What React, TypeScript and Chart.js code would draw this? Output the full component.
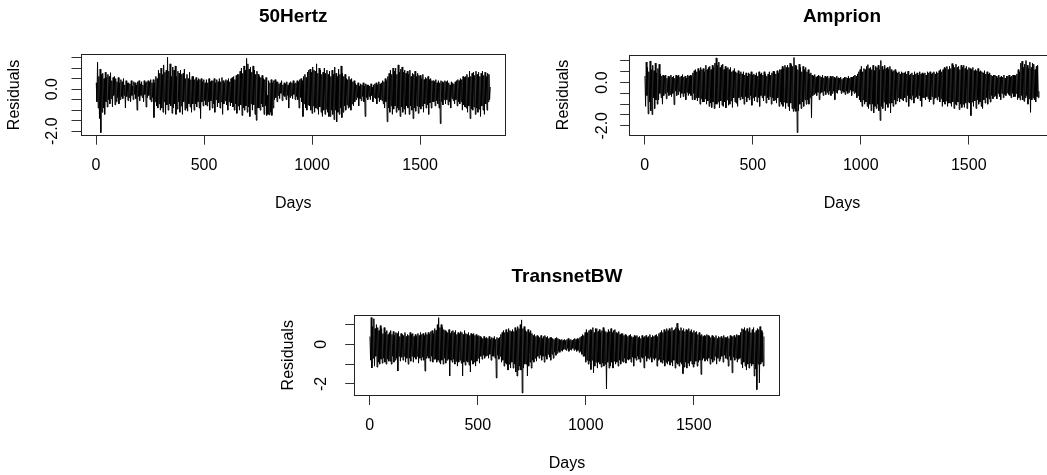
import { useEffect, useRef } from 'react';
import { Chart, registerables } from 'chart.js';

Chart.register(...registerables);

const FONT = "'Liberation Sans', Arial, Helvetica, sans-serif";

const FIRST_DAY = 1;
const STEP_DAYS = 3;

const X_TICKS = [0, 500, 1000, 1500];

const RES_50HERTZ = [
  0.3, -0.6, 1.28, -0.9, 0.6, -1.4, 0.95, -2.07, 0.7, -1.1,
  0.75, -0.9, 0.5, -1.2, 0.8, -0.6, 0.55, -0.85, 0.7, -0.5,
  0.6, -0.7, 0.78, -0.45, 0.4, -0.85, 0.55, -0.3, 0.6, -0.75,
  0.5, -0.6, 0.35, -0.4, 0.55, -0.7, 0.3, -0.5, 0.45, -0.35,
  0.35, -0.45, 0.5, -0.3, 0.2, -0.9, 0.4, -0.35, 0.3, -0.55,
  0.3, -0.4, 0.25, -0.6, 0.4, -0.3, 0.15, -0.5, 0.35, -0.25,
  0.3, -0.45, 0.2, -1.0, 0.35, -0.35, 0.4, -0.55, 0.25, -0.3,
  0.35, -0.4, 0.2, -0.6, 0.4, -0.25, 0.3, -0.85, 0.35, -0.4,
  0.4, -0.3, 0.35, -0.5, 0.45, -0.6, 0.3, -0.4, 0.45, -1.35,
  0.3, -0.6, 0.6, -0.8, 0.5, -0.9, 0.9, -0.7, 0.75, -1.0,
  1.0, -0.9, 0.7, -1.1, 1.15, -0.6, 0.8, -1.2, 0.9, -0.75,
  1.51, -1.0, 0.85, -0.7, 1.2, -0.8, 0.6, -1.15, 1.05, -0.9,
  0.9, -0.7, 1.1, -1.2, 0.6, -0.95, 0.85, -0.6, 0.75, -1.1,
  0.9, -0.8, 0.7, -1.2, 0.75, -0.6, 0.95, -1.0, 0.5, -0.9,
  0.7, -1.05, 0.5, -0.7, 0.8, -0.85, 0.45, -1.1, 0.6, -0.7,
  0.6, -1.0, 0.45, -0.7, 0.55, -0.85, 0.4, -0.6, 0.5, -0.9,
  0.45, -1.4, 0.5, -0.6, 0.35, -0.8, 0.45, -0.55, 0.3, -0.75,
  0.45, -0.8, 0.3, -0.6, 0.5, -1.0, 0.35, -0.55, 0.4, -0.9,
  0.4, -0.7, 0.5, -1.1, 0.3, -0.5, 0.45, -0.85, 0.35, -0.65,
  0.5, -0.9, 0.35, -0.6, 0.55, -1.2, 0.4, -0.7, 0.3, -0.55,
  0.45, -0.75, 0.4, -1.0, 0.5, -0.6, 0.35, -0.8, 0.5, -0.65,
  0.55, -0.85, 0.6, -1.0, 0.45, -0.7, 0.65, -1.15, 0.7, -0.8,
  0.7, -1.0, 0.85, -0.75, 1.0, -1.25, 0.75, -0.9, 1.1, -1.0,
  0.9, -0.8, 1.46, -1.1, 1.2, -0.85, 0.95, -1.3, 1.05, -0.7,
  0.8, -1.0, 1.1, -0.75, 0.9, -1.2, 0.7, -1.48, 0.85, -0.9,
  0.7, -0.9, 0.6, -1.0, 0.55, -0.7, 0.65, -0.85, 0.5, -1.2,
  0.45, -0.8, 0.55, -1.25, -0.3, -1.2, 0.4, -1.22, 0.3, -1.1,
  0.45, -1.25, 0.3, -0.9, 0.4, -0.5, 0.45, -0.4, 0.35, -0.6,
  0.35, -0.3, 0.25, -0.45, 0.3, -0.2, 0.4, -0.55, 0.2, -0.3,
  0.3, -0.35, 0.25, -0.5, 0.35, -0.3, 0.2, -0.9, 0.3, -0.4,
  0.35, -0.3, 0.3, -0.45, 0.4, -0.25, 0.25, -0.5, 0.3, -0.35,
  0.4, -0.5, 0.35, -0.9, 0.45, -0.4, 0.5, -0.6, 0.4, -1.3,
  0.6, -0.7, 0.7, -0.9, 0.55, -1.0, 0.8, -0.75, 0.9, -0.8,
  0.95, -1.0, 0.8, -1.15, 1.05, -0.8, 0.9, -1.1, 0.85, -0.9,
  1.2, -0.95, 0.75, -1.2, 1.0, -0.85, 0.9, -1.1, 0.7, -1.3,
  0.8, -1.0, 1.0, -1.2, 0.75, -0.95, 0.9, -1.1, 0.7, -1.3,
  0.85, -1.3, 0.6, -1.0, 0.9, -1.2, 0.7, -1.45, 1.05, -1.0,
  0.75, -1.56, 0.6, -1.1, 0.95, -1.2, 0.7, -0.9, 1.1, -1.35,
  0.75, -1.1, 0.6, -0.8, 0.7, -1.0, 0.5, -0.75, 0.45, -0.9,
  0.6, -0.85, 0.45, -1.0, 0.5, -0.7, 0.35, -0.8, 0.4, -0.6,
  0.25, -0.5, 0.2, -0.4, 0.3, -0.8, 0.15, -0.45, 0.25, -0.55,
  0.2, -0.35, 0.3, -0.6, 0.15, -1.3, 0.25, -0.4, 0.2, -0.5,
  0.2, -0.35, 0.15, -0.5, 0.25, -0.3, 0.1, -0.6, 0.2, -0.4,
  0.25, -0.45, 0.3, -0.7, 0.2, -0.4, 0.35, -0.6, 0.25, -0.5,
  0.3, -0.55, 0.4, -0.7, 0.35, -0.9, 0.5, -0.6, 0.4, -1.55,
  0.6, -0.9, 0.75, -1.1, 0.9, -0.8, 0.7, -1.2, 1.0, -0.95,
  0.85, -0.8, 1.0, -1.1, 0.7, -0.9, 1.15, -1.0, 0.8, -1.3,
  0.95, -0.85, 1.05, -1.1, 0.8, -0.95, 0.9, -1.2, 0.75, -0.8,
  0.85, -0.9, 0.7, -1.2, 0.9, -0.8, 0.6, -1.0, 0.75, -1.4,
  0.7, -0.9, 0.85, -1.05, 0.6, -0.8, 0.75, -1.15, 0.65, -0.85,
  0.65, -0.95, 0.5, -0.8, 0.7, -1.1, 0.45, -0.7, 0.55, -0.9,
  0.5, -0.75, 0.6, -1.2, 0.45, -0.65, 0.5, -0.9, 0.4, -0.6,
  0.4, -0.6, 0.35, -0.8, 0.45, -0.55, 0.3, -0.7, 0.4, -0.9,
  0.3, -1.64, 0.4, -0.6, 0.35, -0.75, 0.3, -0.5, 0.4, -0.7,
  0.35, -0.5, 0.4, -0.75, 0.3, -0.6, 0.2, -0.9, 0.35, -0.45,
  0.3, -0.55, 0.25, -0.7, 0.35, -0.5, 0.4, -0.8, 0.45, -0.6,
  0.4, -0.7, 0.5, -0.6, 0.45, -1.0, 0.6, -0.75, 0.55, -0.85,
  0.6, -0.9, 0.7, -1.1, 0.55, -0.8, 0.85, -1.4, 0.6, -0.95,
  0.75, -1.0, 0.8, -0.85, 0.65, -1.2, 0.85, -0.9, 0.7, -1.1,
  0.8, -0.95, 0.6, -1.3, 0.75, -0.8, 0.85, -1.0, 0.65, -1.2,
  0.8, -0.7, 0.6, -1.0, 0.75, -0.6, 0.7, -0.5, 0.1,
];

const RES_AMPRION = [
  0.3, -1.1, 0.95, -0.6, 0.7, -1.45, 0.5, -0.9, 1.0, -1.3,
  0.6, -1.48, 0.8, -0.7, 0.55, -1.2, 0.9, -0.8, 0.45, -1.0,
  0.65, -0.8, 0.85, -0.5, 0.4, -0.7, 0.3, -1.0, 0.35, -0.6,
  0.3, -0.5, 0.35, -0.75, 0.2, -0.45, 0.3, -0.6, 0.25, -0.55,
  0.35, -0.65, 0.25, -0.5, 0.3, -1.02, 0.2, -0.4, 0.35, -0.6,
  0.3, -0.55, 0.35, -0.4, 0.25, -0.7, 0.3, -0.5, 0.37, -0.65,
  0.25, -0.5, 0.3, -0.8, 0.2, -0.45, 0.35, -0.6, 0.3, -0.5,
  0.35, -0.6, 0.3, -0.79, 0.45, -0.5, 0.55, -0.8, 0.6, -0.7,
  0.5, -0.85, 0.65, -0.7, 0.55, -1.0, 0.7, -0.75, 0.6, -0.9,
  0.65, -0.9, 0.5, -0.75, 0.8, -1.0, 0.6, -0.85, 0.7, -1.1,
  0.75, -0.95, 0.6, -1.15, 0.8, -0.9, 0.7, -1.2, 0.9, -1.0,
  1.14, -1.0, 0.8, -0.9, 0.95, -1.17, 0.7, -0.85, 0.8, -1.05,
  0.85, -1.1, 0.6, -0.9, 0.75, -1.17, 0.65, -0.8, 0.7, -1.05,
  0.6, -1.0, 0.7, -0.85, 0.5, -1.15, 0.55, -0.7, 0.65, -0.9,
  0.5, -0.95, 0.45, -1.1, 0.55, -0.7, 0.4, -0.8, 0.5, -0.65,
  0.4, -0.75, 0.5, -1.0, 0.35, -0.65, 0.45, -0.9, 0.3, -0.7,
  0.45, -0.8, 0.4, -0.6, 0.5, -1.05, 0.35, -0.7, 0.4, -0.85,
  0.35, -0.65, 0.45, -0.9, 0.3, -0.7, 0.5, -1.1, 0.4, -0.6,
  0.45, -0.7, 0.35, -0.85, 0.5, -0.6, 0.4, -0.95, 0.3, -0.7,
  0.4, -0.8, 0.5, -0.65, 0.35, -1.0, 0.45, -0.7, 0.53, -0.85,
  0.5, -0.8, 0.4, -0.95, 0.55, -0.7, 0.45, -1.1, 0.6, -0.9,
  0.6, -1.0, 0.75, -1.1, 0.65, -0.9, 0.8, -1.2, 0.7, -0.95,
  0.8, -1.1, 0.7, -1.3, 0.9, -0.95, 0.83, -1.2, 0.75, -1.33,
  1.16, -1.2, 0.8, -1.33, 0.75, -2.31, 0.6, -1.3, 0.85, -1.0,
  0.7, -1.2, 0.5, -0.9, 0.75, -1.1, 0.6, -0.8, 0.7, -1.0,
  0.5, -0.8, 0.6, -1.0, 0.4, -0.7, 0.45, -1.64, 0.35, -0.6,
  0.3, -0.55, 0.37, -0.5, 0.25, -0.6, 0.3, -0.45, 0.35, -0.79,
  0.3, -0.5, 0.25, -0.45, 0.35, -0.6, 0.22, -0.4, 0.3, -0.55,
  0.25, -0.45, 0.3, -0.55, 0.2, -0.4, 0.3, -0.6, 0.25, -0.5,
  0.3, -0.4, 0.25, -0.79, 0.2, -0.45, 0.3, -0.5, 0.22, -0.35,
  0.2, -0.35, 0.25, -0.5, 0.15, -0.4, 0.2, -0.45, 0.25, -0.55,
  0.25, -0.4, 0.2, -0.5, 0.3, -0.45, 0.2, -0.35, 0.25, -0.6,
  0.25, -0.4, 0.3, -0.5, 0.35, -0.45, 0.3, -0.7, 0.4, -0.6,
  0.5, -0.8, 0.6, -0.9, 0.75, -1.1, 0.5, -0.8, 0.65, -1.0,
  0.6, -0.9, 0.75, -1.1, 0.83, -1.2, 0.65, -1.0, 0.7, -1.3,
  0.6, -1.0, 0.8, -1.4, 0.55, -1.1, 0.75, -1.2, 0.7, -1.0,
  0.8, -1.3, 0.6, -1.75, 1.02, -1.1, 0.75, -1.2, 0.6, -0.9,
  0.8, -1.3, 0.65, -1.0, 0.7, -1.15, 0.6, -0.95, 0.75, -1.4,
  0.6, -0.95, 0.5, -1.1, 0.55, -0.8, 0.6, -1.0, 0.5, -0.85,
  0.45, -0.7, 0.5, -0.9, 0.4, -0.75, 0.5, -0.8, 0.45, -0.85,
  0.45, -0.7, 0.5, -0.9, 0.4, -0.6, 0.53, -1.1, 0.35, -0.75,
  0.4, -0.8, 0.45, -0.6, 0.35, -0.95, 0.5, -0.7, 0.4, -0.65,
  0.45, -0.75, 0.35, -0.6, 0.5, -0.85, 0.4, -1.1, 0.45, -0.7,
  0.4, -0.7, 0.45, -0.8, 0.35, -0.65, 0.5, -0.75, 0.45, -0.9,
  0.5, -0.8, 0.4, -0.65, 0.45, -1.0, 0.5, -0.75, 0.4, -0.7,
  0.5, -0.8, 0.45, -0.65, 0.55, -0.9, 0.6, -0.75, 0.5, -1.1,
  0.6, -0.9, 0.7, -1.0, 0.65, -0.85, 0.75, -1.1, 0.6, -0.95,
  0.75, -0.95, 0.65, -1.1, 0.88, -0.9, 0.8, -1.2, 0.7, -1.0,
  0.85, -1.05, 0.7, -0.9, 0.75, -1.25, 0.6, -1.0, 0.8, -1.15,
  0.7, -1.0, 0.8, -1.15, 0.65, -0.95, 0.75, -1.2, 0.6, -0.9,
  0.7, -0.95, 0.65, -1.53, 0.6, -0.9, 0.7, -1.1, 0.55, -0.85,
  0.6, -1.2, 0.55, -0.8, 0.65, -1.0, 0.5, -0.9, 0.55, -1.1,
  0.5, -1.2, 0.45, -0.8, 0.55, -0.95, 0.4, -0.7, 0.5, -1.0,
  0.4, -0.75, 0.45, -0.9, 0.35, -0.6, 0.3, -0.75, 0.35, -0.65,
  0.35, -0.6, 0.3, -0.75, 0.22, -0.5, 0.35, -0.65, 0.25, -0.79,
  0.3, -0.5, 0.25, -0.7, 0.35, -0.55, 0.2, -0.6, 0.3, -0.48,
  0.3, -0.55, 0.35, -0.6, 0.25, -0.7, 0.3, -0.5, 0.35, -0.65,
  0.35, -0.65, 0.3, -0.5, 0.4, -0.79, 0.6, -0.7, 0.5, -0.8,
  0.9, -0.6, 0.99, -0.8, 0.7, -0.87, 0.85, -0.7, 1.02, -0.6,
  0.8, -1.0, 0.65, -0.75, 0.95, -1.38, 0.7, -0.8, 0.9, -0.7,
  0.85, -0.8, 0.6, -0.9, 0.75, -0.65, 0.8, -0.7, -0.4,
];

const RES_TRANSNETBW = [
  0.4, -0.8, 1.36, -1.19, 0.9, -0.7, 1.3, -1.1, 0.8, -0.6,
  1.0, -1.15, 0.85, -0.9, 0.7, -1.0, 0.95, -0.75, 0.8, -0.95,
  0.55, -0.7, 0.85, -0.9, 0.6, -1.0, 0.7, -0.75, 0.5, -0.85,
  0.6, -0.85, 0.7, -1.0, 0.5, -0.6, 0.65, -0.9, 0.45, -0.8,
  0.6, -0.7, 0.55, -1.35, 0.65, -0.6, 0.4, -0.85, 0.55, -0.65,
  0.5, -0.8, 0.45, -0.6, 0.6, -0.9, 0.4, -0.7, 0.5, -1.0,
  0.45, -0.7, 0.6, -0.85, 0.5, -0.6, 0.55, -0.9, 0.4, -0.65,
  0.5, -0.75, 0.4, -0.6, 0.55, -0.95, 0.45, -0.7, 0.6, -0.8,
  0.5, -0.65, 0.55, -0.8, 0.45, -1.35, 0.6, -0.7, 0.5, -0.6,
  0.6, -0.7, 0.5, -0.85, 0.65, -0.6, 0.7, -0.9, 0.55, -0.75,
  0.8, -0.75, 0.7, -0.9, 1.0, -0.8, 1.35, -0.9, 0.85, -1.0,
  1.0, -0.8, 0.85, -1.0, 0.75, -0.7, 0.7, -0.95, 0.65, -0.8,
  0.6, -0.75, 0.75, -1.6, 0.55, -0.8, 0.65, -0.9, 0.7, -0.75,
  0.6, -1.0, 0.7, -0.85, 0.5, -1.1, 0.6, -0.9, 0.55, -0.8,
  0.65, -0.95, 0.6, -1.6, 0.5, -0.9, 0.7, -1.05, 0.55, -0.85,
  0.5, -0.9, 0.6, -1.05, 0.45, -1.4, 0.55, -0.8, 0.5, -1.0,
  0.55, -0.9, 0.45, -1.1, 0.5, -0.85, 0.4, -0.7, 0.45, -0.95,
  0.4, -0.6, 0.35, -0.75, 0.3, -0.55, 0.4, -0.7, 0.3, -0.6,
  0.35, -0.55, 0.3, -0.7, 0.4, -0.5, 0.25, -0.8, 0.35, -0.6,
  0.3, -0.6, 0.4, -0.7, 0.25, -1.7, 0.35, -0.55, 0.3, -0.75,
  0.35, -0.6, 0.5, -0.9, 0.6, -0.8, 0.7, -1.1, 0.6, -0.95,
  0.75, -1.0, 0.6, -1.3, 0.8, -1.0, 0.7, -1.2, 0.65, -0.9,
  0.75, -1.2, 0.65, -1.0, 0.85, -1.4, 0.7, -1.6, 0.9, -1.3,
  0.8, -1.1, 1.0, -1.3, 1.24, -2.46, 0.8, -1.2, 0.9, -1.0,
  0.7, -1.0, 0.65, -1.6, 0.75, -1.1, 0.6, -0.9, 0.7, -1.2,
  0.55, -0.8, 0.45, -0.9, 0.5, -0.7, 0.4, -0.85, 0.45, -0.6,
  0.4, -0.7, 0.35, -0.55, 0.45, -0.8, 0.3, -0.6, 0.4, -0.9,
  0.45, -0.6, 0.35, -0.75, 0.4, -0.5, 0.3, -0.65, 0.35, -0.8,
  0.35, -0.5, 0.3, -0.7, 0.25, -0.4, 0.3, -0.55, 0.35, -0.45,
  0.3, -0.35, 0.25, -0.4, 0.2, -0.3, 0.25, -0.35, 0.2, -0.25,
  0.25, -0.25, 0.2, -0.3, 0.25, -0.2, 0.3, -0.35, 0.2, -0.25,
  0.25, -0.3, 0.2, -0.2, 0.25, -0.3, 0.3, -0.25, 0.25, -0.35,
  0.3, -0.3, 0.25, -0.4, 0.35, -0.35, 0.4, -0.5, 0.5, -0.6,
  0.45, -0.6, 0.6, -0.9, 0.75, -0.8, 0.6, -1.0, 0.7, -0.85,
  0.75, -1.27, 0.7, -0.8, 0.85, -1.44, 0.6, -1.1, 0.8, -0.9,
  0.8, -1.2, 0.65, -0.9, 0.75, -1.0, 0.6, -1.15, 0.7, -0.95,
  0.85, -1.1, 0.7, -1.0, 0.65, -2.25, 0.6, -0.9, 0.75, -1.2,
  0.65, -1.1, 0.8, -0.9, 0.6, -1.2, 0.7, -0.85, 0.75, -1.0,
  0.6, -0.9, 0.55, -1.1, 0.65, -0.8, 0.5, -1.0, 0.55, -0.85,
  0.55, -0.9, 0.45, -0.7, 0.5, -0.95, 0.45, -0.75, 0.4, -0.8,
  0.45, -0.75, 0.5, -0.9, 0.4, -0.65, 0.35, -1.1, 0.45, -0.7,
  0.4, -0.8, 0.45, -0.6, 0.35, -0.75, 0.4, -0.9, 0.3, -0.65,
  0.45, -0.7, 0.35, -1.19, 0.4, -0.6, 0.45, -0.85, 0.35, -0.7,
  0.4, -0.75, 0.5, -0.65, 0.35, -0.9, 0.45, -0.7, 0.4, -0.8,
  0.45, -0.7, 0.5, -1.1, 0.4, -0.8, 0.55, -0.75, 0.6, -0.9,
  0.7, -0.95, 0.6, -0.8, 0.75, -1.1, 0.65, -0.9, 0.8, -1.0,
  0.7, -0.85, 0.8, -1.05, 0.65, -0.9, 0.85, -1.1, 0.7, -0.8,
  0.75, -1.2, 0.85, -0.95, 1.07, -1.0, 0.8, -1.1, 0.7, -0.9,
  0.85, -1.0, 0.7, -1.48, 0.8, -1.15, 0.65, -0.9, 0.75, -1.2,
  0.7, -0.95, 0.8, -1.1, 0.65, -0.85, 0.75, -1.0, 0.6, -1.15,
  0.7, -1.0, 0.6, -0.85, 0.65, -1.1, 0.5, -0.9, 0.6, -0.8,
  0.45, -1.52, 0.5, -0.8, 0.4, -0.7, 0.45, -0.85, 0.4, -0.75,
  0.5, -0.85, 0.45, -0.7, 0.4, -1.0, 0.35, -0.75, 0.45, -0.9,
  0.4, -0.8, 0.35, -0.6, 0.45, -1.0, 0.3, -0.7, 0.4, -0.85,
  0.35, -0.75, 0.4, -0.6, 0.3, -0.9, 0.45, -0.55, 0.35, -0.7,
  0.35, -0.75, 0.4, -1.1, 0.3, -0.6, 0.45, -0.8, 0.4, -1.44,
  0.4, -0.65, 0.45, -0.8, 0.35, -0.7, 0.5, -0.9, 0.45, -0.75,
  0.45, -0.7, 0.6, -1.0, 0.8, -1.2, 0.75, -0.9, 0.85, -1.1,
  0.7, -1.3, 0.8, -1.0, 0.65, -1.2, 0.85, -0.95, 0.6, -1.1,
  0.75, -1.0, 0.85, -1.6, 0.6, -1.25, 0.7, -2.29, 0.8, -1.0,
  0.75, -1.95, 0.9, -1.0, 0.7, -0.9, 0.6, -1.1, 0.4,
];

const Y_TICKS_50HERTZ = [-2, -1.5, -1, -0.5, 0, 0.5, 1, 1.5];
const Y_LABELS_50HERTZ = ['-2.0', '', '', '', '0.0', '', '', ''];
const Y_TICKS_AMPRION = [-2, -1.5, -1, -0.5, 0, 0.5, 1];
const Y_LABELS_AMPRION = ['-2.0', '', '', '', '0.0', '', ''];
const Y_TICKS_TRANSNETBW = [-2, -1, 0, 1];
const Y_LABELS_TRANSNETBW = ['-2', '', '0', ''];

type Panel = {
  title: string;
  values: number[];
  yTicks: number[];
  yLabels: string[];
  frame: { left: number; top: number; width: number; height: number };
  pad: { left: number; right: number; top: number; bottom: number };
  titlePad: { top: number; bottom: number };
  yTickPad: number;
};

const Y_AXIS_W = 75.1;
const X_AXIS_H = 77.6;

const PANELS: Panel[] = [
  {
    title: '50Hertz',
    values: RES_50HERTZ,
    yTicks: Y_TICKS_50HERTZ,
    yLabels: Y_LABELS_50HERTZ,
    frame: { left: 0, top: 0, width: 540, height: 237 },
    pad: { left: 5.4, right: 34, top: 0, bottom: 23.7 },
    titlePad: { top: 5.3, bottom: 26.2 },
    yTickPad: 5.1,
  },
  {
    title: 'Amprion',
    values: RES_AMPRION,
    yTicks: Y_TICKS_AMPRION,
    yLabels: Y_LABELS_AMPRION,
    frame: { left: 540, top: 0, width: 560, height: 237 },
    pad: { left: 14.1, right: 45.3, top: 0.2, bottom: 23.9 },
    titlePad: { top: 5.3, bottom: 26.2 },
    yTickPad: 4.0,
  },
  {
    title: 'TransnetBW',
    values: RES_TRANSNETBW,
    yTicks: Y_TICKS_TRANSNETBW,
    yLabels: Y_LABELS_TRANSNETBW,
    frame: { left: 270, top: 237, width: 540, height: 238 },
    pad: { left: 9.1, right: 30.3, top: 23.3, bottom: 1.4 },
    titlePad: { top: 5.3, bottom: 26.1 },
    yTickPad: 16,
  },
];

const boxPlugin = {
  id: 'rbox',
  afterDraw(chart: any) {
    const { ctx, chartArea: a } = chart;
    ctx.save();
    ctx.strokeStyle = '#222';
    ctx.lineWidth = 1;
    const l = Math.round(a.left) + 0.5;
    const t = Math.round(a.top) + 0.5;
    const r = Math.round(a.right) - 0.5;
    const b = Math.round(a.bottom) - 0.5;
    ctx.strokeRect(l, t, r - l, b - t);
    ctx.restore();
  },
};

function PanelChart({ p }: { p: Panel }) {
  const ref = useRef<HTMLCanvasElement | null>(null);
  useEffect(() => {
    if (!ref.current) return;
    const days = p.values.map((_, i) => FIRST_DAY + i * STEP_DAYS);
    const points = p.values.map((v, i) => ({ x: days[i], y: v }));
    const xLo = days[0];
    const xHi = days[days.length - 1];
    const xExt = (xHi - xLo) * 0.04;
    const yLo = Math.min(...p.values);
    const yHi = Math.max(...p.values);
    const yExt = (yHi - yLo) * 0.04;
    const chart = new Chart(ref.current, {
      type: 'line',
      data: {
        datasets: [
          {
            data: points,
            borderColor: '#000',
            borderWidth: 1,
            pointRadius: 0,
            tension: 0,
            fill: false,
          },
        ],
      },
      options: {
        animation: false,
        responsive: false,
        devicePixelRatio: 1,
        events: [],
        layout: { padding: p.pad },
        plugins: {
          legend: { display: false },
          tooltip: { enabled: false },
          title: {
            display: true,
            text: p.title,
            fullSize: false,
            color: '#000',
            font: { family: FONT, size: 19, weight: 'bold', lineHeight: 1.2 },
            padding: p.titlePad,
          },
        },
        scales: {
          x: {
            type: 'linear',
            min: xLo - xExt,
            max: xHi + xExt,
            afterBuildTicks: (ax: any) => {
              ax.ticks = X_TICKS.map((v) => ({ value: v }));
            },
            afterFit: (ax: any) => {
              ax.height = X_AXIS_H;
            },
            ticks: {
              autoSkip: false,
              minRotation: 0,
              maxRotation: 0,
              padding: 11.4,
              color: '#000',
              font: { family: FONT, size: 16, lineHeight: 1.2 },
              callback: (v: any) => String(v),
            },
            grid: {
              drawOnChartArea: false,
              drawTicks: true,
              tickLength: 9,
              tickColor: '#333',
              lineWidth: 1,
            },
            border: { display: false },
            title: {
              display: true,
              text: 'Days',
              color: '#000',
              font: { family: FONT, size: 16, lineHeight: 1.2 },
              padding: { top: 0, bottom: 0 },
            },
          },
          y: {
            type: 'linear',
            min: yLo - yExt,
            max: yHi + yExt,
            afterBuildTicks: (ax: any) => {
              ax.ticks = p.yTicks.map((v) => ({ value: v }));
            },
            afterFit: (ax: any) => {
              ax.width = Y_AXIS_W;
            },
            ticks: {
              autoSkip: false,
              minRotation: 90,
              maxRotation: 90,
              crossAlign: 'center',
              padding: p.yTickPad,
              color: '#000',
              font: { family: FONT, size: 16, lineHeight: 1.2 },
              callback: (v: any) => {
                const i = p.yTicks.indexOf(Number(v));
                return i >= 0 ? p.yLabels[i] : '';
              },
            },
            grid: {
              drawOnChartArea: false,
              drawTicks: true,
              tickLength: 9,
              tickColor: '#333',
              lineWidth: 1,
            },
            border: { display: false },
            title: {
              display: true,
              text: 'Residuals',
              color: '#000',
              font: { family: FONT, size: 16, lineHeight: 1.2 },
              padding: { top: 0, bottom: 0 },
            },
          },
        },
      } as any,
      plugins: [boxPlugin],
    });
    return () => chart.destroy();
  }, [p]);
  return (
    <canvas
      ref={ref}
      width={p.frame.width}
      height={p.frame.height}
      style={{
        position: 'absolute',
        left: p.frame.left,
        top: p.frame.top,
        width: p.frame.width,
        height: p.frame.height,
      }}
    />
  );
}

export default function App() {
  return (
    <div
      style={{
        position: 'fixed',
        left: 0,
        top: 0,
        width: 1047,
        height: 475,
        overflow: 'hidden',
        background: '#fff',
      }}
    >
      {PANELS.map((p) => (
        <PanelChart key={p.title} p={p} />
      ))}
    </div>
  );
}
